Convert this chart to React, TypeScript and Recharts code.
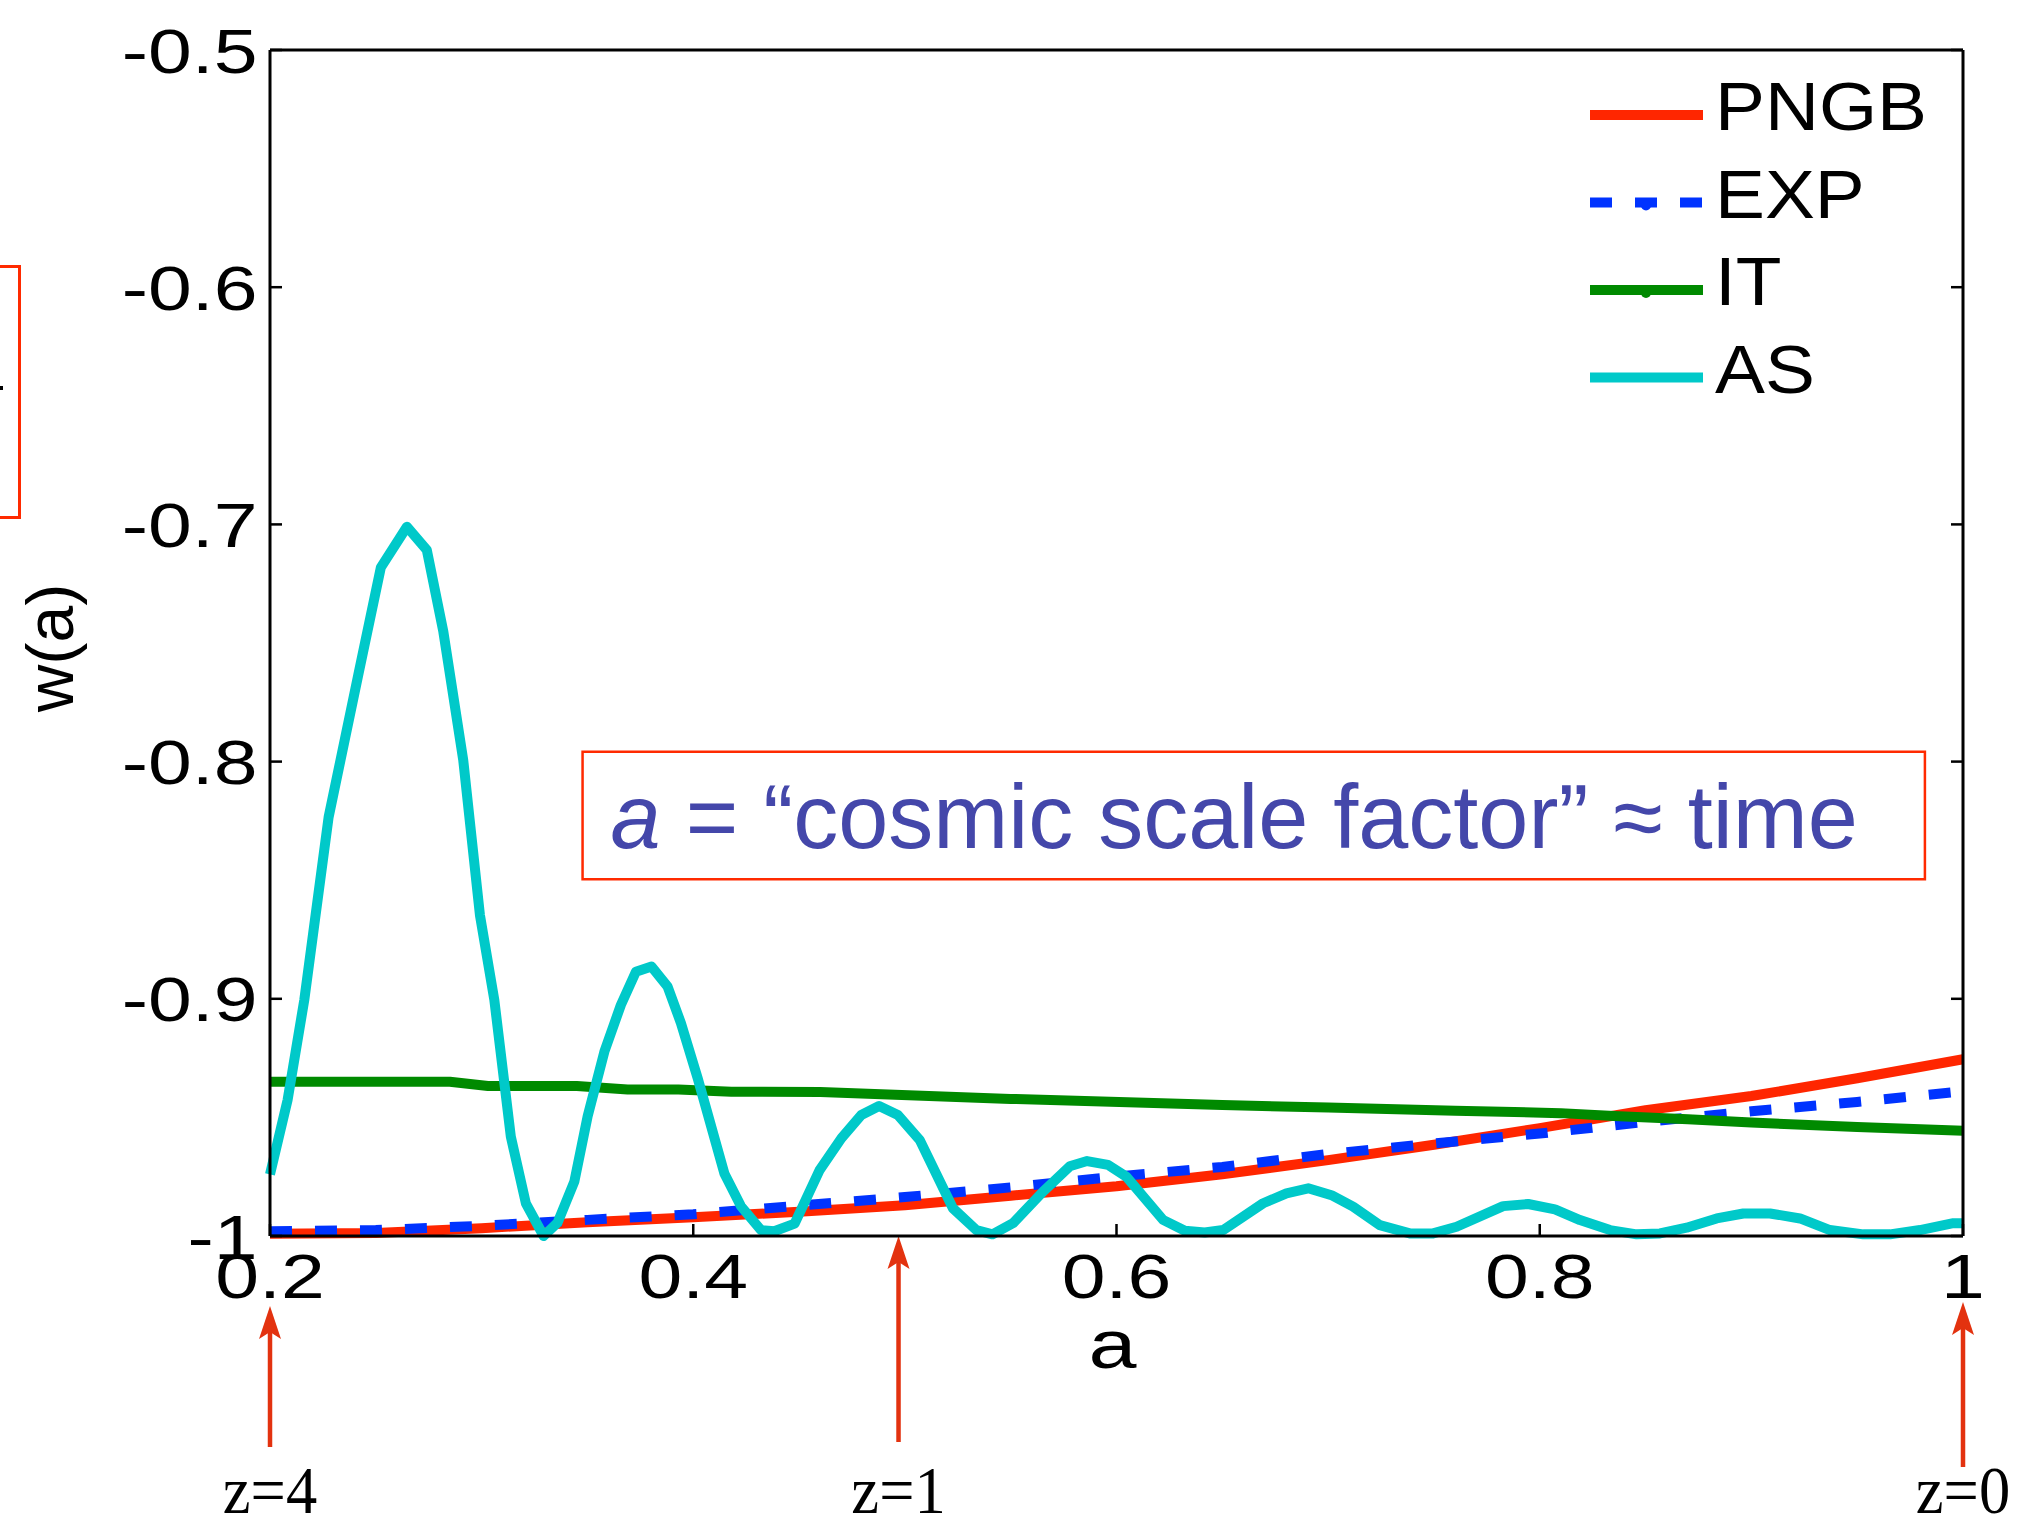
import React from 'react';
import { LineChart, Line, XAxis, YAxis, Legend, ReferenceArea, ReferenceLine } from 'recharts';

// dark-energy equation of state w(a) for four quintessence potentials
const PNGB_A = [0.2, 0.25, 0.3, 0.35, 0.4, 0.45, 0.5, 0.55, 0.6, 0.65, 0.7, 0.75, 0.8, 0.85, 0.9, 0.95, 1];
const PNGB_W = [-0.999, -0.9987, -0.9967, -0.9942, -0.9921, -0.9898, -0.987, -0.983, -0.979, -0.974, -0.968, -0.9615, -0.9545, -0.947, -0.941, -0.9335, -0.9255];

const EXP_A = [0.2, 0.25, 0.3, 0.35, 0.4, 0.45, 0.5, 0.55, 0.6, 0.65, 0.7, 0.75, 0.8, 0.85, 0.9, 0.95, 1];
const EXP_W = [-0.998, -0.9975, -0.9957, -0.9932, -0.9908, -0.9872, -0.9836, -0.9795, -0.9749, -0.9709, -0.9654, -0.961, -0.9568, -0.9519, -0.9474, -0.9435, -0.939];

const IT_A = [0.2, 0.285, 0.303, 0.345, 0.369, 0.393, 0.418, 0.46, 0.55, 0.65, 0.7, 0.76, 0.81, 0.835, 0.87, 0.9, 0.95, 1];
const IT_W = [-0.935, -0.935, -0.9368, -0.9368, -0.9382, -0.9382, -0.9392, -0.9393, -0.9422, -0.9448, -0.9458, -0.9472, -0.9482, -0.9494, -0.9508, -0.9522, -0.954, -0.9556];

const AS_A = [
  0.2, 0.2083, 0.2162, 0.2277, 0.2417, 0.2524, 0.2647, 0.2741, 0.2819, 0.2913, 0.2992, 0.306, 0.3138, 0.3209,
  0.3293, 0.3359, 0.3438, 0.3501, 0.358, 0.3658, 0.3729, 0.3803, 0.3879, 0.3942, 0.4021, 0.4147, 0.4225, 0.432,
  0.4383, 0.4479, 0.4597, 0.47, 0.4794, 0.4878, 0.4967, 0.507, 0.5227, 0.5338, 0.5414, 0.5511, 0.5653, 0.5779,
  0.5861, 0.596, 0.6047, 0.622, 0.6323, 0.6417, 0.6504, 0.6693, 0.6803, 0.6906, 0.7016, 0.7118, 0.7244, 0.7386,
  0.7496, 0.7607, 0.7827, 0.7945, 0.8072, 0.819, 0.8332, 0.8458, 0.8568, 0.8694, 0.8836, 0.8962, 0.9088, 0.923,
  0.9371, 0.9529, 0.9655, 0.9797, 0.9954, 1,
];
const AS_W = [
  -0.974, -0.9427, -0.9005, -0.8234, -0.7635, -0.7181, -0.701, -0.7108, -0.7452, -0.7993, -0.8647, -0.9005, -0.9581, -0.9862,
  -1.0, -0.9944, -0.9771, -0.9495, -0.9223, -0.9026, -0.8886, -0.8864, -0.8949, -0.9103, -0.9335, -0.9736, -0.9874, -0.9975,
  -0.998, -0.9948, -0.9722, -0.9588, -0.949, -0.9452, -0.949, -0.9595, -0.9883, -0.9975, -0.9993, -0.9946, -0.9813, -0.9706,
  -0.9684, -0.97, -0.975, -0.9932, -0.9978, -0.9985, -0.9975, -0.9862, -0.982, -0.9799, -0.9828, -0.9876, -0.9954, -0.9989,
  -0.9989, -0.9961, -0.9874, -0.9865, -0.9888, -0.9933, -0.9975, -0.9993, -0.9989, -0.9965, -0.9926, -0.9905, -0.9905, -0.9926,
  -0.9975, -0.9993, -0.9993, -0.9975, -0.9946, -0.9946,
];

const X_TICKS = [0.2, 0.4, 0.6, 0.8, 1];
const Y_TICKS = [-1, -0.9, -0.8, -0.7, -0.6, -0.5];

// redshift markers along the a axis
const REDSHIFT_A = [0.2, 0.497, 1];
const REDSHIFT_LABEL = ['z=4', 'z=1', 'z=0'];

// boxed note, in data coordinates
const NOTE_A = [0.3477, 0.982];
const NOTE_W = [-0.8496, -0.7958];

const SANS = '"Liberation Sans", Arial, Helvetica, sans-serif';
const SERIF = '"Liberation Serif", "Times New Roman", serif';
const ARROW_RED = '#e3320f';
const BOX_RED = '#ff2a00';
const NOTE_BLUE = '#4447aa';
const STRETCH = 1.25;

// arrow geometry below the axis (px from the axis line)
const ARROW_GEOM = [
  { tip: 70, tail: 211 },
  { tip: 0, tail: 206 },
  { tip: 66, tail: 231 },
];

const toRows = (a: number[], w: number[]) => a.map((v, i) => ({ a: v, w: w[i] }));

const SERIES = [
  { name: 'PNGB', color: '#ff2600', dash: undefined as string | undefined, data: toRows(PNGB_A, PNGB_W) },
  { name: 'EXP', color: '#0033ff', dash: '22 23', data: toRows(EXP_A, EXP_W) },
  { name: 'IT', color: '#008a00', dash: undefined, data: toRows(IT_A, IT_W) },
  { name: 'AS', color: '#00c9c9', dash: undefined, data: toRows(AS_A, AS_W) },
];

function YTick({ x, y, payload }: any) {
  return (
    <text
      transform={`translate(${x - 12.5},${y}) scale(${STRETCH},1)`}
      textAnchor="end"
      dy="0.36em"
      fontSize={63}
      fontFamily={SANS}
      fill="#000"
    >
      {String(payload.value)}
    </text>
  );
}

function XTick({ x, y, payload }: any) {
  return (
    <text
      transform={`translate(${x},${y + 62}) scale(${STRETCH},1)`}
      textAnchor="middle"
      fontSize={63}
      fontFamily={SANS}
      fill="#000"
    >
      {String(payload.value)}
    </text>
  );
}

function XTitle({ viewBox }: any) {
  const vb = viewBox || { x: 0, y: 0, width: 0 };
  return (
    <text
      transform={`translate(${vb.x + vb.width / 2 - 4},${vb.y + 132}) scale(${STRETCH},1)`}
      textAnchor="middle"
      fontSize={69}
      fontFamily={SANS}
      fill="#000"
    >
      a
    </text>
  );
}

function YTitle({ viewBox }: any) {
  const vb = viewBox || { x: 0, y: 0, height: 0 };
  const bx = vb.x + 73;
  const cy = vb.y + vb.height / 2 + 5;
  return (
    <text
      x={bx}
      y={cy}
      transform={`rotate(-90, ${bx}, ${cy})`}
      textAnchor="middle"
      fontSize={66}
      fontFamily={SANS}
      fill="#000"
    >
      w(a)
    </text>
  );
}

function NoteText({ viewBox }: any) {
  const vb = viewBox || { x: 0, y: 0 };
  return (
    <text x={vb.x + 28} y={vb.y + 96} fill={NOTE_BLUE} fontSize={90} fontFamily={SANS} style={{ whiteSpace: 'pre' }}>
      <tspan fontStyle="italic">a</tspan>
      <tspan>{' = \u201Ccosmic scale factor\u201D \u2248 time'}</tspan>
    </text>
  );
}

function makeArrow(i: number) {
  return (props: any) => {
    const x = props.x1;
    const axisY = Math.max(props.y1, props.y2);
    const tipY = axisY + ARROW_GEOM[i].tip;
    const tailY = axisY + ARROW_GEOM[i].tail;
    return (
      <g>
        <line x1={x} y1={tailY} x2={x} y2={tipY + 24} stroke={ARROW_RED} strokeWidth={4.5} />
        <polygon
          points={`${x},${tipY} ${x - 11},${tipY + 33} ${x},${tipY + 26} ${x + 11},${tipY + 33}`}
          fill={ARROW_RED}
        />
        <text
          transform={`translate(${x},${axisY + 277}) scale(0.92,1)`}
          textAnchor="middle"
          fontSize={68}
          fontFamily={SERIF}
          fill="#000"
        >
          {REDSHIFT_LABEL[i]}
        </text>
      </g>
    );
  };
}

function LegendBox() {
  return (
    <svg width={420} height={360} style={{ overflow: 'visible' }}>
      {SERIES.map((s, i) => {
        const y = 55 + i * 87.5;
        return (
          <g key={s.name}>
            <line x1={10} y1={y} x2={123} y2={y} stroke={s.color} strokeWidth={10} strokeDasharray={s.dash} />
            {(s.name === 'EXP' || s.name === 'IT') && <circle cx={66} cy={y + 3} r={5} fill={s.color} />}
            <text
              transform={`translate(135,${y + 15}) scale(1.1,1)`}
              fontSize={68}
              fontFamily={SANS}
              fill="#000"
            >
              {s.name}
            </text>
          </g>
        );
      })}
    </svg>
  );
}

export default function App() {
  return (
    <div style={{ position: 'absolute', left: 0, top: 0, width: 2019, height: 1519, background: '#fff' }}>
      <div
        style={{
          position: 'absolute',
          left: -40,
          top: 265,
          width: 61,
          height: 254,
          boxSizing: 'border-box',
          border: `3px solid ${BOX_RED}`,
        }}
      />
      <div style={{ position: 'absolute', left: 0, top: 386, width: 3, height: 4, background: '#000' }} />
      <LineChart width={2019} height={1519} margin={{ top: 20, right: 26, bottom: 133, left: 0 }}>
        <XAxis
          dataKey="a"
          type="number"
          domain={[0.2, 1]}
          ticks={X_TICKS}
          height={150}
          tickSize={-12}
          tickMargin={12}
          tick={<XTick />}
          axisLine={{ stroke: '#000', strokeWidth: 3 }}
          tickLine={{ stroke: '#000', strokeWidth: 2.5 }}
          label={<XTitle />}
        />
        <XAxis
          xAxisId="top"
          orientation="top"
          type="number"
          domain={[0.2, 1]}
          allowDataOverflow
          ticks={X_TICKS}
          height={30}
          tickSize={-12}
          tickFormatter={() => ''}
          axisLine={{ stroke: '#000', strokeWidth: 3 }}
          tickLine={{ stroke: '#000', strokeWidth: 2.5 }}
        />
        <YAxis
          type="number"
          domain={[-1, -0.5]}
          ticks={Y_TICKS}
          width={270}
          tickSize={-12}
          tickMargin={12}
          tick={<YTick />}
          axisLine={{ stroke: '#000', strokeWidth: 3 }}
          tickLine={{ stroke: '#000', strokeWidth: 2.5 }}
          label={<YTitle />}
        />
        <YAxis
          yAxisId="right"
          orientation="right"
          type="number"
          domain={[-1, -0.5]}
          allowDataOverflow
          ticks={Y_TICKS}
          width={30}
          tickSize={-12}
          tickFormatter={() => ''}
          axisLine={{ stroke: '#000', strokeWidth: 3 }}
          tickLine={{ stroke: '#000', strokeWidth: 2.5 }}
        />
        <ReferenceArea
          x1={NOTE_A[0]}
          x2={NOTE_A[1]}
          y1={NOTE_W[0]}
          y2={NOTE_W[1]}
          ifOverflow="visible"
          stroke={BOX_RED}
          strokeWidth={2.5}
          fill="#fff"
          fillOpacity={1}
          label={<NoteText />}
        />
        {SERIES.map((s) => (
          <Line
            key={s.name}
            data={s.data}
            dataKey="w"
            name={s.name}
            type="linear"
            stroke={s.color}
            strokeWidth={10}
            strokeDasharray={s.dash}
            strokeLinejoin="round"
            dot={false}
            activeDot={false}
            isAnimationActive={false}
          />
        ))}
        {REDSHIFT_A.map((a, i) => (
          <ReferenceLine key={REDSHIFT_LABEL[i]} x={a} ifOverflow="visible" shape={makeArrow(i)} />
        ))}
        <Legend
          layout="horizontal"
          verticalAlign="middle"
          align="center"
          content={() => <LegendBox />}
          wrapperStyle={{ left: 1580, top: 60, width: 420, height: 360 }}
        />
      </LineChart>
    </div>
  );
}
